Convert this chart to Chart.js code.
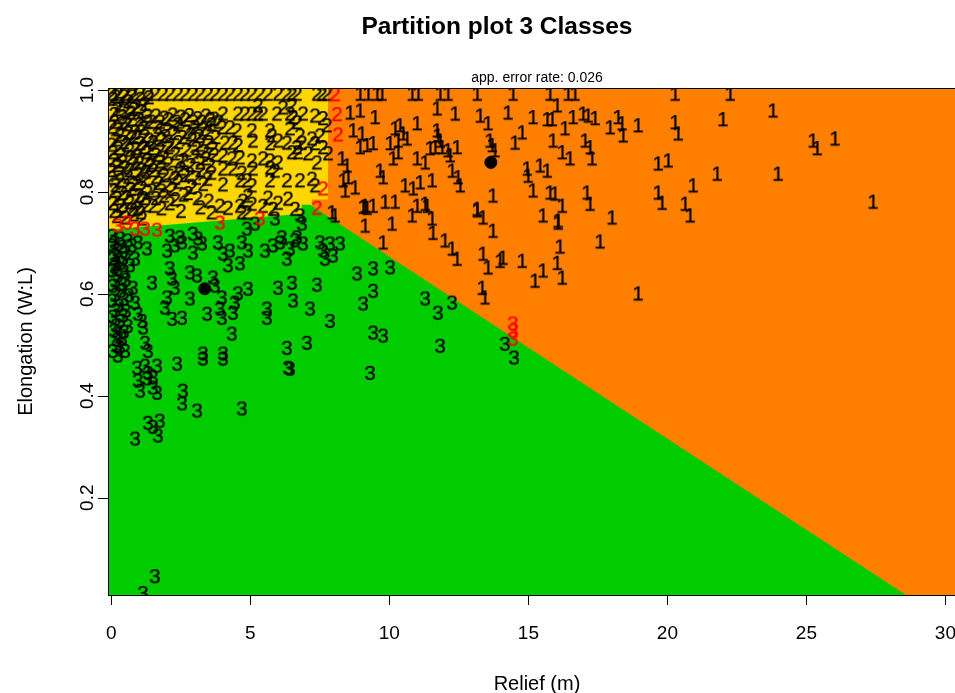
<!DOCTYPE html>
<html>
<head>
<meta charset="utf-8">
<script src="https://cdn.jsdelivr.net/npm/chart.js@4.4.1/dist/chart.umd.min.js"></script>
<style>
  html, body { margin: 0; padding: 0; background: #fff; overflow: hidden; }
  #wrap { width: 1000px; height: 693px; }
</style>
</head>
<body>
<div id="wrap"><canvas id="partition" width="1000" height="693"></canvas></div>
<script>
// axis ticks
const xTicks = [0, 5, 10, 15, 20, 25, 30];
const yTicks = [0.2, 0.4, 0.6, 0.8, 1.0];

// partition regions (boundaries)
const orangeTop = [[-0.12, 1.01], [30.8, 1.01]];
const yellowTop = [[-0.12, 1.01], [7.8, 1.01], [7.8, 0.785]];
const notchTop = [[7.2, 0.785], [7.8, 0.785]];
const greenTop = [[-0.12, 0.726], [6.85, 0.757], [6.85, 0.775], [7.15, 0.775], [28.58, 0.009]];

// class 1 (black "1")
const class1 = [
  [8.94,0.995],[9.23,0.995],[9.55,0.995],[9.73,0.995],[10.81,0.995],[11.03,0.995],[11.82,0.995],[12.10,0.995],[13.15,0.995],[14.44,0.995],[15.77,0.995],[16.42,0.995],[16.67,0.995],[20.27,0.995],[22.25,0.995],
  [8.58,0.958],[8.94,0.962],[9.48,0.949],[11.71,0.966],[12.36,0.956],[13.26,0.952],[13.54,0.937],[14.26,0.958],[15.16,0.949],[15.67,0.945],[15.85,0.945],[14.77,0.919],[14.51,0.899],
  [8.69,0.923],[9.01,0.917],[8.94,0.890],[9.19,0.894],[9.41,0.898],[10.20,0.927],[10.38,0.933],[10.49,0.917],[10.99,0.937],[10.02,0.898],[10.31,0.903],[10.63,0.907],[11.71,0.923],[11.74,0.913],[11.82,0.903],[11.46,0.888],[11.64,0.890],[11.89,0.890],[12.10,0.884],[12.43,0.890],[13.61,0.903],[13.69,0.894],[13.79,0.884],
  [10.31,0.880],[10.13,0.868],[10.99,0.868],[11.28,0.860],[12.18,0.874],[14.95,0.848],[14.98,0.834],[15.41,0.854],[15.67,0.844],
  [8.47,0.854],[8.51,0.831],[8.33,0.825],[8.40,0.805],[9.66,0.844],[9.77,0.831],[10.56,0.815],[10.85,0.809],[11.10,0.821],[11.53,0.825],[12.25,0.844],[12.46,0.831],[12.54,0.815],[13.72,0.795],[8.76,0.811],[9.12,0.775],[9.41,0.775],[10.99,0.775],[11.28,0.779],[13.15,0.769],[15.16,0.805],[15.77,0.801],
  [16.03,0.972],[16.31,0.927],[16.60,0.949],[16.96,0.956],[17.14,0.952],[17.39,0.947],[17.93,0.929],[18.22,0.949],[18.36,0.937],[18.40,0.913],[18.94,0.933],[20.27,0.939],[20.38,0.917],[21.99,0.945],[23.79,0.962],
  [15.88,0.903],[16.21,0.880],[16.49,0.868],[17.03,0.903],[17.21,0.890],[17.28,0.868],[19.66,0.858],[20.02,0.864],[21.78,0.838],[23.97,0.838],[25.23,0.903],[25.38,0.888],[26.02,0.907],
  [15.95,0.799],[16.21,0.775],[17.10,0.801],[17.21,0.779],[16.06,0.742],[18.00,0.752],[19.66,0.801],[19.80,0.781],[20.63,0.779],[20.92,0.815],[20.81,0.756],[27.39,0.783],[18.94,0.603],
  [7.93,0.762],[8.04,0.756],[9.05,0.773],[9.19,0.771],[9.84,0.783],[10.20,0.783],[11.35,0.775],[13.15,0.766],[13.36,0.752],[15.52,0.756],[16.06,0.746],
  [9.12,0.736],[10.09,0.740],[10.81,0.756],[11.53,0.750],[11.56,0.722],[13.72,0.726],[9.77,0.703],[11.99,0.707],[12.25,0.691],[12.43,0.671],[13.36,0.681],[13.54,0.654],[13.97,0.667],[14.08,0.673],[14.77,0.667],[15.23,0.628],[15.52,0.648],[16.03,0.663],[16.13,0.695],[16.21,0.634],[13.33,0.614],[13.43,0.595],[17.57,0.705],[8.29,0.868]
];

// class 2 (black "2")
const class2 = [
  [0.02,0.995],[0.23,0.995],[0.49,0.995],[0.74,0.995],[1.03,0.995],[1.31,0.995],[1.56,0.995],[1.85,0.995],[2.10,0.995],[2.39,0.995],[2.64,0.995],[2.93,0.995],[3.18,0.995],[3.47,0.995],[3.72,0.995],
  [4.01,0.995],[4.26,0.995],[4.55,0.995],[4.80,0.995],[5.05,0.995],[5.34,0.995],[5.63,0.995],[5.99,0.995],[6.31,0.995],[6.49,0.995],[6.67,0.995],[7.39,0.995],[7.57,0.995],[7.75,0.995],
  [5.27,0.972],[6.17,0.968],[6.49,0.972],
  [4.01,0.956],[4.55,0.956],[4.80,0.956],[5.05,0.956],[5.27,0.956],[5.45,0.956],[5.95,0.956],[6.42,0.956],[6.53,0.949],[6.89,0.956],[7.32,0.952],[7.61,0.947],[6.67,0.939],
  [3.97,0.929],[4.26,0.929],[4.51,0.923],[5.05,0.923],[5.70,0.923],[5.77,0.913],[6.42,0.927],[6.78,0.913],[7.21,0.907],[7.50,0.913],[7.75,0.933],
  [4.08,0.899],[4.37,0.899],[4.55,0.894],[5.09,0.903],[5.70,0.898],[5.99,0.903],[6.31,0.899],[6.67,0.890],[6.85,0.899],[7.32,0.898],[7.61,0.890],
  [4.01,0.874],[4.33,0.868],[4.62,0.870],[5.05,0.864],[5.45,0.868],[5.70,0.864],[5.99,0.860],[6.49,0.880],[6.71,0.880],[7.07,0.878],[7.39,0.860],[7.79,0.878],
  [4.01,0.848],[4.37,0.848],[4.69,0.840],[5.09,0.848],[5.70,0.850],[5.88,0.844],
  [4.01,0.817],[4.62,0.825],[4.87,0.825],[5.05,0.815],[5.70,0.825],[6.31,0.825],[6.78,0.825],[7.21,0.828],[7.32,0.815],
  [3.90,0.775],[4.19,0.771],[4.62,0.775],[4.73,0.785],[4.91,0.795],[5.05,0.779],[5.45,0.775],[5.63,0.791],[5.99,0.781],[6.35,0.789],[6.60,0.769],[4.69,0.762],[4.87,0.762],[5.81,0.769],
  [0.05,0.985],[0.3,0.975],[0.6,0.98],[0.9,0.97],[1.2,0.975],
  [0.1,0.955],[0.4,0.95],[0.7,0.958],[1.0,0.945],[1.3,0.952],
  [0.0,0.93],[0.25,0.925],[0.55,0.935],[0.85,0.92],[1.15,0.928],
  [0.15,0.905],[0.45,0.9],[0.75,0.91],[1.05,0.898],[1.35,0.905],
  [0.05,0.88],[0.35,0.875],[0.65,0.885],[0.95,0.872],[1.25,0.88],
  [0.2,0.855],[0.5,0.85],[0.8,0.858],[1.1,0.846],[1.4,0.855],
  [0.0,0.83],[0.3,0.825],[0.6,0.832],[0.9,0.82],[1.2,0.828],
  [0.1,0.805],[0.4,0.8],[0.7,0.808],[1.0,0.795],[1.3,0.802],
  [0.05,0.78],[0.35,0.775],[0.65,0.782],[0.95,0.77],[1.25,0.776],
  [0.2,0.755],[0.5,0.752],[0.8,0.758],[1.1,0.75],
  [0.15,0.99],[0.45,0.99],[0.75,0.99],[1.05,0.985],[1.35,0.988],
  [0.2,0.965],[0.5,0.962],[0.8,0.965],[1.1,0.96],
  [0.1,0.94],[0.4,0.938],[0.7,0.945],[1.0,0.935],[1.3,0.94],
  [0.3,0.915],[0.6,0.918],[0.9,0.91],[1.2,0.912],
  [0.0,0.895],[0.25,0.888],[0.55,0.895],[0.85,0.888],[1.15,0.89],
  [0.1,0.865],[0.4,0.862],[0.7,0.87],[1.0,0.86],[1.3,0.865],
  [0.0,0.845],[0.3,0.84],[0.65,0.845],[0.95,0.838],[1.25,0.842],
  [0.15,0.815],[0.5,0.815],[0.8,0.818],[1.1,0.81],
  [0.2,0.79],[0.55,0.792],[0.85,0.785],[1.15,0.79],
  [0.1,0.765],[0.45,0.765],[0.75,0.768],[1.05,0.762],
  [1.6,0.952],[1.9,0.948],[2.2,0.954],[2.5,0.95],[2.8,0.953],[3.1,0.947],[3.4,0.952],[3.7,0.946],
  [1.7,0.93],[2.0,0.925],[2.4,0.935],[2.7,0.92],[3.0,0.93],[3.3,0.925],[3.6,0.935],
  [1.5,0.9],[1.8,0.905],[2.1,0.895],[2.4,0.9],[2.9,0.905],[3.2,0.895],[3.5,0.9],
  [1.6,0.875],[1.9,0.87],[2.3,0.878],[2.6,0.865],[3.0,0.872],[3.4,0.868],[3.7,0.875],
  [1.5,0.845],[1.8,0.85],[2.2,0.84],[2.5,0.848],[2.8,0.838],[3.2,0.845],[3.6,0.84],
  [1.7,0.82],[2.0,0.815],[2.4,0.822],[2.9,0.812],[3.3,0.818],
  [1.6,0.79],[1.9,0.795],[2.3,0.788],[2.6,0.797],[3.1,0.79],[3.5,0.785],
  [1.8,0.77],[2.5,0.765],[3.2,0.772],[3.6,0.762],
  [1.45,0.94],[1.75,0.94],[2.05,0.945],[2.35,0.94],[2.65,0.945],[2.95,0.94],[3.25,0.94],[3.55,0.945],[3.85,0.94],
  [1.65,0.915],[1.95,0.912],[2.25,0.918],[2.55,0.91],[2.85,0.915],[3.15,0.912],[3.45,0.918],[3.75,0.91],
  [1.45,0.888],[1.75,0.885],[2.05,0.89],[2.7,0.885],[3.05,0.888],[3.35,0.882],[3.65,0.888],
  [1.45,0.86],[1.75,0.862],[2.05,0.858],[2.45,0.862],[2.85,0.855],[3.2,0.86],[3.55,0.855],
  [1.6,0.832],[1.9,0.835],[2.3,0.83],[2.65,0.835],[3.05,0.83],[3.45,0.828],
  [1.45,0.805],[1.8,0.805],[2.2,0.808],[2.75,0.8],
  [1.5,0.775],[2.1,0.78]
];

// class 3 (black "3")
const class3 = [
  [11.28,0.593],[11.74,0.565],[12.25,0.585],[11.82,0.500],[14.15,0.504],[14.48,0.477],
  [5.52,0.687],[5.81,0.697],[6.06,0.703],[6.42,0.691],[6.60,0.707],[6.89,0.701],[6.31,0.671],[7.61,0.687],[7.86,0.701],[8.22,0.701],[7.68,0.671],[7.97,0.677],
  [8.83,0.642],[9.41,0.652],[10.02,0.654],[5.99,0.614],[6.49,0.624],[7.39,0.620],[9.41,0.608],[9.05,0.583],[6.53,0.589],[5.59,0.573],[5.59,0.555],[7.14,0.573],[7.86,0.549],
  [9.41,0.526],[9.77,0.520],[6.31,0.496],[7.03,0.506],[6.35,0.457],[9.30,0.447],
  [0.95,0.703],[1.28,0.691],[2.00,0.687],[2.28,0.697],[2.54,0.703],[2.93,0.683],[3.11,0.711],[3.83,0.703],[4.01,0.681],[4.26,0.687],[4.69,0.703],[4.91,0.687],[4.19,0.658],[4.62,0.662],
  [1.46,0.624],[2.10,0.652],[2.18,0.632],[2.28,0.614],[2.82,0.644],[3.08,0.638],[2.00,0.595],[1.92,0.575],[2.18,0.553],[2.54,0.555],[2.82,0.593],
  [3.65,0.634],[3.72,0.618],[3.97,0.595],[3.44,0.563],[3.90,0.573],[3.97,0.555],[4.44,0.585],[4.37,0.565],[4.55,0.603],[4.91,0.612],[4.33,0.524],[3.29,0.485],[4.01,0.485],
  [0.95,0.563],[1.10,0.549],[1.14,0.536],[0.77,0.614],[0.85,0.585],[0.20,0.500],[0.23,0.526],[1.21,0.506],[1.31,0.490],
  [0.02,0.716],[0.31,0.711],[0.59,0.707],[0.02,0.697],[0.23,0.687],[0.52,0.683],[0.05,0.671],[0.34,0.663],[0.67,0.658],[0.02,0.648],[0.23,0.638],[0.52,0.630],
  [0.05,0.618],[0.34,0.608],[0.63,0.599],[0.02,0.589],[0.27,0.579],[0.52,0.569],[0.05,0.557],[0.31,0.549],[0.59,0.539],[0.09,0.530],[0.38,0.514],[0.05,0.490],[0.49,0.490],
  [0.74,0.697],[0.85,0.671],[0.16,0.661],
  [0.12,0.703],[0.40,0.695],[0.12,0.678],[0.42,0.672],[0.12,0.655],[0.45,0.646],[0.14,0.628],[0.40,0.622],[0.14,0.600],[0.45,0.592],[0.15,0.570],[0.42,0.560],[0.16,0.540],[0.45,0.528],[0.18,0.512],[0.30,0.498],
  [0.23,0.481],[0.92,0.457],[1.21,0.461],[1.64,0.461],[1.31,0.447],[2.36,0.465],[3.29,0.475],[4.01,0.475],[6.42,0.455],
  [0.95,0.432],[1.03,0.412],[1.28,0.436],[1.49,0.438],[1.49,0.418],[1.64,0.408],[2.57,0.412],[2.54,0.387],[3.08,0.373],[4.69,0.377],
  [1.31,0.349],[1.74,0.353],[1.49,0.341],[1.67,0.324],[0.85,0.318],[1.56,0.048],[1.13,0.015],
  [4.87,0.730],[5.16,0.740],[5.88,0.750],[6.78,0.756],[6.85,0.740],[6.13,0.713],[6.67,0.713],[7.50,0.703],
  [2.10,0.716],[2.46,0.713],[2.93,0.720],[3.26,0.701]
];

// misclassified (red)
const class2Wrong = [[8.04,0.994],[8.11,0.955],[8.15,0.915],[7.61,0.809],[7.39,0.771]];
const class3Wrong = [[0.23,0.736],[0.56,0.742],[0.85,0.730],[1.21,0.730],[1.64,0.728],[3.90,0.742],[5.34,0.750],[14.44,0.544],[14.44,0.530],[14.44,0.514]];

// class centres
const centres = [[3.36,0.610],[13.65,0.858]];

const FONT = '"Liberation Sans", Arial, Helvetica, sans-serif';

function glyph(ch, color) {
  const c = document.createElement('canvas');
  c.width = 26; c.height = 26;
  const g = c.getContext('2d');
  g.font = '21px ' + FONT;
  g.fillStyle = color;
  g.strokeStyle = color;
  g.lineWidth = 0.25;
  g.textAlign = 'center';
  g.textBaseline = 'alphabetic';
  g.fillText(ch, 13, 20.5);
  g.strokeText(ch, 13, 20.5);
  return c;
}

const pts = arr => arr.map(p => ({ x: p[0], y: p[1] }));

function region(data, color, order) {
  return {
    type: 'line', data: pts(data), order: order,
    showLine: true, borderWidth: 0, pointRadius: 0,
    backgroundColor: color, borderColor: color, fill: 'start', tension: 0
  };
}

function labels(data, ch, color) {
  return {
    type: 'scatter', data: pts(data), order: 2, clip: 0,
    pointStyle: glyph(ch, color), pointRadius: 10
  };
}

const rAxes = {
  id: 'rAxes',
  afterDraw(chart) {
    const { ctx, chartArea: a, scales } = chart;
    const xs = scales.x, ys = scales.y;
    ctx.save();
    ctx.strokeStyle = '#000';
    ctx.fillStyle = '#000';
    ctx.lineWidth = 1;
    ctx.strokeRect(a.left + 0.5, a.top + 0.5, a.right - a.left, a.bottom - a.top);

    // x axis
    ctx.beginPath();
    ctx.moveTo(xs.getPixelForValue(xTicks[0]), a.bottom + 0.5);
    ctx.lineTo(xs.getPixelForValue(xTicks[xTicks.length - 1]), a.bottom + 0.5);
    xTicks.forEach(v => {
      const px = Math.round(xs.getPixelForValue(v)) + 0.5;
      ctx.moveTo(px, a.bottom); ctx.lineTo(px, a.bottom + 10);
    });
    ctx.stroke();
    ctx.font = '19px ' + FONT;
    ctx.textAlign = 'center';
    ctx.textBaseline = 'middle';
    xTicks.forEach(v => ctx.fillText(String(v), xs.getPixelForValue(v), a.bottom + 39));

    // y axis
    ctx.beginPath();
    ctx.moveTo(a.left + 0.5, ys.getPixelForValue(yTicks[0]));
    ctx.lineTo(a.left + 0.5, ys.getPixelForValue(yTicks[yTicks.length - 1]));
    yTicks.forEach(v => {
      const py = Math.round(ys.getPixelForValue(v)) + 0.5;
      ctx.moveTo(a.left, py); ctx.lineTo(a.left - 10, py);
    });
    ctx.stroke();
    yTicks.forEach(v => {
      ctx.save();
      ctx.translate(a.left - 20, ys.getPixelForValue(v));
      ctx.rotate(-Math.PI / 2);
      ctx.fillText(v.toFixed(1), 0, 0);
      ctx.restore();
    });

    // titles
    ctx.font = '20px ' + FONT;
    ctx.fillText('Relief (m)', (a.left + a.right) / 2, 684);
    ctx.save();
    ctx.translate(26, (a.top + a.bottom) / 2);
    ctx.rotate(-Math.PI / 2);
    ctx.fillText('Elongation (W:L)', 0, 0);
    ctx.restore();

    ctx.font = 'bold 24.5px ' + FONT;
    ctx.fillText('Partition plot 3 Classes', 497, 27);
    ctx.font = '14px ' + FONT;
    ctx.fillText('app. error rate: 0.026', (a.left + a.right) / 2, 78);
    ctx.restore();
  }
};

new Chart(document.getElementById('partition'), {
  type: 'scatter',
  data: {
    datasets: [
      { type: 'scatter', data: pts(centres), order: 0, clip: 0,
        pointStyle: 'circle', pointRadius: 6, backgroundColor: '#000', borderColor: '#000' },
      labels(class2Wrong, '2', '#ff0000'),
      labels(class3Wrong, '3', '#ff0000'),
      labels(class3, '3', '#000000'),
      labels(class2, '2', '#000000'),
      labels(class1, '1', '#000000'),
      region(greenTop, '#00cc00', 7),
      region(notchTop, '#ff7f00', 8),
      region(yellowTop, '#ffd700', 9),
      region(orangeTop, '#ff7f00', 10)
    ]
  },
  options: {
    responsive: false,
    animation: false,
    events: [],
    layout: { padding: { left: 108, top: 88, right: 34, bottom: 98 } },
    plugins: { legend: { display: false }, tooltip: { enabled: false } },
    scales: {
      x: { type: 'linear', min: -0.12, max: 30.74, display: false },
      y: { type: 'linear', min: 0.009, max: 1.004, display: false }
    }
  },
  plugins: [rAxes]
});
</script>
</body>
</html>
